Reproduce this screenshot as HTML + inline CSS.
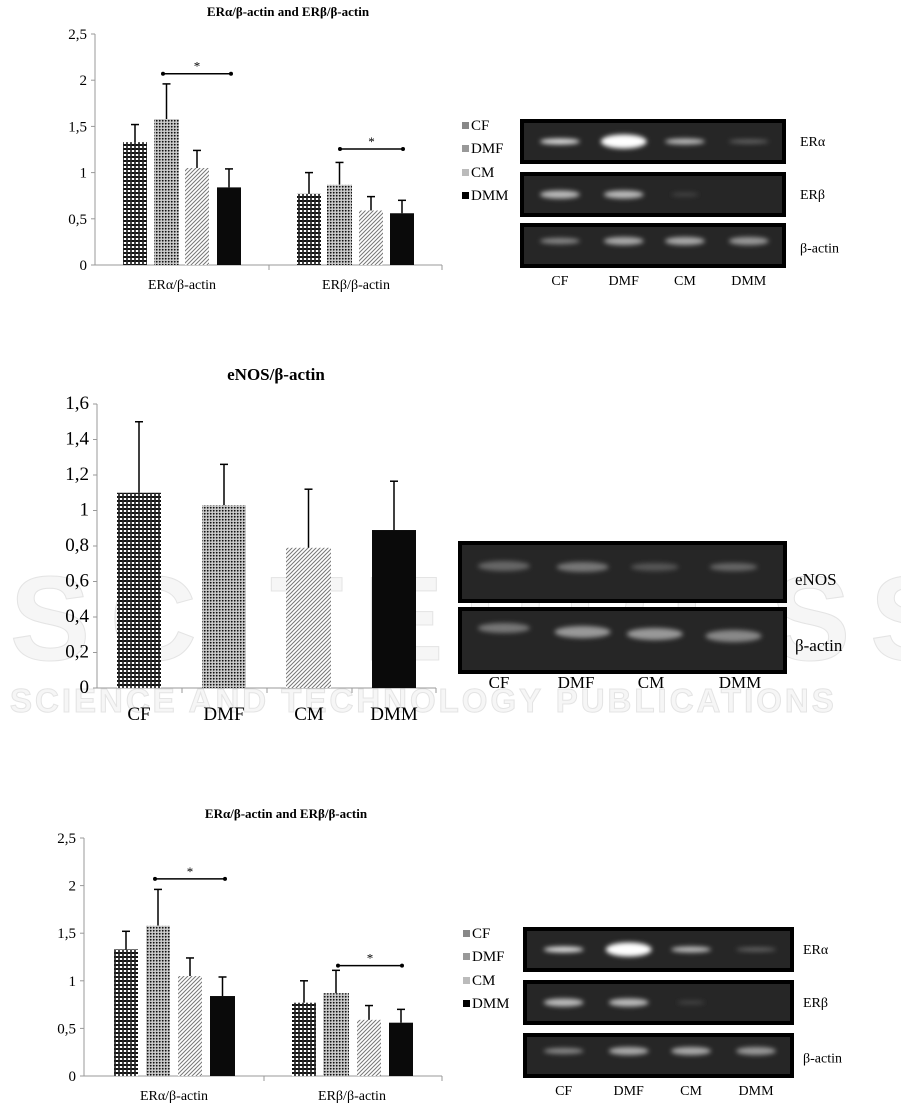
<!DOCTYPE html>
<html><head><meta charset="utf-8">
<style>
html,body{margin:0;padding:0;background:#fff;}
svg{display:block;font-family:"Liberation Serif",serif;}
</style></head>
<body>
<svg id="s" width="901" height="1106" xmlns="http://www.w3.org/2000/svg">
<defs>
<pattern id="pCF" width="4" height="4" patternUnits="userSpaceOnUse"><rect width="4" height="4" fill="#fff"/><rect width="2" height="2" fill="#111"/><rect x="2" y="2" width="2" height="2" fill="#444"/><rect x="2" y="0" width="2" height="2" fill="#222"/></pattern>
<pattern id="pDMF" width="3" height="3" patternUnits="userSpaceOnUse"><rect width="3" height="3" fill="#bbb"/><rect width="1.5" height="1.5" fill="#111"/><rect x="1.5" y="1.5" width="1" height="1" fill="#fff"/></pattern>
<pattern id="pCM" width="4" height="4" patternUnits="userSpaceOnUse"><rect width="4" height="4" fill="#fff"/><path d="M0 4L4 0M-1 1L1 -1M3 5L5 3" stroke="#777" stroke-width="1"/></pattern>
<filter id="bl" x="-50%" y="-100%" width="200%" height="300%"><feGaussianBlur stdDeviation="2.5"/></filter>
</defs>
<g id="wm" font-family="Liberation Sans,sans-serif" font-weight="bold" fill="#f6f6f6" stroke="#e4e4e4" stroke-width="1">
<text x="10" y="660" font-size="120" letter-spacing="20">SCITEPRESS</text>
<text x="10" y="712" font-size="33" letter-spacing="3">SCIENCE AND TECHNOLOGY PUBLICATIONS</text>
</g>
<g id="g"></g>
</svg>
<script>
var g=document.getElementById('g'),h='';
function T(x,y,t,sz,anc,extra){h+='<text x="'+x+'" y="'+y+'" font-size="'+sz+'" text-anchor="'+(anc||'start')+'" '+(extra||'')+'>'+t+'</text>';}
function L(x1,y1,x2,y2,c,w){h+='<line x1="'+x1+'" y1="'+y1+'" x2="'+x2+'" y2="'+y2+'" stroke="'+(c||'#888')+'" stroke-width="'+(w||1)+'"/>';}
var fills=['url(#pCF)','url(#pDMF)','url(#pCM)','#0a0a0a'];
function chart(o){
 L(o.ox,o.top,o.ox,o.y0,'#999');L(o.ox,o.y0,o.xe,o.y0,'#999');
 o.ticks.forEach(function(t){var y=o.y0-t[0]*o.ppu;T(o.ox-8,y+5,t[1],o.fs,'end');L(o.ox-4,y,o.ox,y,'#999');});
 o.sep.forEach(function(x){L(x,o.y0,x,o.y0+5,'#999');});
 o.bars.forEach(function(b,i){var y=o.y0-b[2]*o.ppu,ye=o.y0-(b[2]+b[3])*o.ppu,cx=b[0]+b[1]/2;
  h+='<rect x="'+b[0]+'" y="'+y+'" width="'+b[1]+'" height="'+(o.y0-y)+'" fill="'+fills[i%4]+'"/>';
  L(cx,y,cx,ye,'#000',1.5);L(cx-4,ye,cx+4,ye,'#000',1.5);});
 (o.sig||[]).forEach(function(s){var y=o.y0-s[2]*o.ppu;L(s[0],y,s[1],y,'#000',1.5);h+='<circle cx="'+s[0]+'" cy="'+y+'" r="2"/><circle cx="'+s[1]+'" cy="'+y+'" r="2"/>';T((s[0]+s[1])/2,y-3,'*',13,'middle');});
 o.cats.forEach(function(c){T(c[0],c[1],c[2],o.cfs,'middle');});
 T(o.tx,o.ty,o.title,o.tfs,'middle','font-weight="bold"');
}
var tk25=[[0,'0'],[0.5,'0,5'],[1,'1'],[1.5,'1,5'],[2,'2'],[2.5,'2,5']];
chart({ox:95,y0:265,top:34,xe:442,ppu:92.4,fs:15,cfs:14,ticks:tk25,sep:[269,442],
 bars:[[123,24,1.33,0.19],[154,25,1.58,0.38],[185,24,1.05,0.19],[217,24,0.84,0.2],[297,24,0.77,0.23],[327,25,0.87,0.24],[359,24,0.59,0.15],[390,24,0.56,0.14]],
 sig:[[163,231,2.07],[340,403,1.255]],cats:[[182,289,'ERα/β-actin'],[356,289,'ERβ/β-actin']],title:'ERα/β-actin and ERβ/β-actin',tx:288,ty:16,tfs:13});
chart({ox:97,y0:688,top:404,xe:436,ppu:177.5,fs:19,cfs:19,ticks:[[0,'0'],[0.2,'0,2'],[0.4,'0,4'],[0.6,'0,6'],[0.8,'0,8'],[1,'1'],[1.2,'1,2'],[1.4,'1,4'],[1.6,'1,6']],sep:[182,267,352,436],
 bars:[[117,44,1.1,0.4],[202,44,1.03,0.23],[286,45,0.79,0.33],[372,44,0.89,0.275]],
 cats:[[139,720,'CF'],[224,720,'DMF'],[309,720,'CM'],[394,720,'DMM']],title:'eNOS/β-actin',tx:276,ty:380,tfs:17});
chart({ox:84,y0:1076,top:838,xe:442,ppu:95.2,fs:15,cfs:14,ticks:tk25,sep:[264,442],
 bars:[[114,24,1.33,0.19],[146,24,1.58,0.38],[178,24,1.05,0.19],[210,25,0.84,0.2],[292,24,0.77,0.23],[323,26,0.87,0.24],[357,24,0.59,0.15],[389,24,0.56,0.14]],
 sig:[[155,225,2.07],[338,402,1.16]],cats:[[174,1100,'ERα/β-actin'],[352,1100,'ERβ/β-actin']],title:'ERα/β-actin and ERβ/β-actin',tx:286,ty:818,tfs:13});
function box(x,y,w,hh,bands){h+='<rect x="'+(x+2)+'" y="'+(y+2)+'" width="'+(w-4)+'" height="'+(hh-4)+'" fill="#262626" stroke="#000" stroke-width="4"/>';
 bands.forEach(function(b){h+='<ellipse cx="'+b[0]+'" cy="'+b[1]+'" rx="'+b[2]+'" ry="'+b[3]+'" fill="'+b[4]+'" filter="url(#bl)"/>';});}
function legend(x,ys){var n=['CF','DMF','CM','DMM'],c=['#888','#999','#bbb','#000'];ys.forEach(function(y,i){h+='<rect x="'+x+'" y="'+(y-8)+'" width="7" height="7" fill="'+c[i]+'"/>';T(x+9,y,n[i],15);});}
function erblot(x,y1,y2,y3,w,hh,lx,ly,lblx){
 var c=[x+w*0.15,x+w*0.39,x+w*0.62,x+w*0.86];
 box(x,y1,w,hh,[[c[0],y1+hh*0.5,20,3,'#ddd'],[c[1],y1+hh*0.5,23,7,'#fff'],[c[2],y1+hh*0.5,20,3,'#bbb'],[c[3],y1+hh*0.5,20,2,'#666']]);
 box(x,y2,w,hh,[[c[0],y2+hh*0.5,20,4,'#bbb'],[c[1],y2+hh*0.5,20,4,'#bbb'],[c[2],y2+hh*0.5,14,2,'#444']]);
 box(x,y3,w,hh,[[c[0],y3+hh*0.4,20,3,'#888'],[c[1],y3+hh*0.4,20,4,'#aaa'],[c[2],y3+hh*0.4,20,4,'#aaa'],[c[3],y3+hh*0.4,20,4,'#999']]);
 c.forEach(function(cx,i){T(cx,ly,['CF','DMF','CM','DMM'][i],14,'middle');});
 T(lblx,y1+hh*0.6,'ERα',14);T(lblx,y2+hh*0.6,'ERβ',14);T(lblx,y3+hh*0.65,'β-actin',14);
 legend(lx,[y1+11,y1+34,y1+58,y1+81]);
}
erblot(520,119,172,223,266,45,462,285,800);
erblot(523,927,980,1033,271,45,463,1095,803);
var cx=[458+328*0.14,458+328*0.38,458+328*0.6,458+328*0.84];
box(458,541,329,62,[[cx[0],566,26,5,'#666'],[cx[1],567,26,5,'#777'],[cx[2],567,24,4,'#555'],[cx[3],567,24,4,'#666']]);
box(458,607,329,67,[[cx[0],628,26,5,'#777'],[cx[1],632,28,6,'#999'],[cx[2],634,28,6,'#999'],[cx[3],636,28,6,'#888']]);
T(795,585,'eNOS',17);T(795,651,'β-actin',17);
[['CF',499],['DMF',576],['CM',651],['DMM',740]].forEach(function(a){T(a[1],688,a[0],17,'middle');});
g.innerHTML=h;
</script>
</body></html>
